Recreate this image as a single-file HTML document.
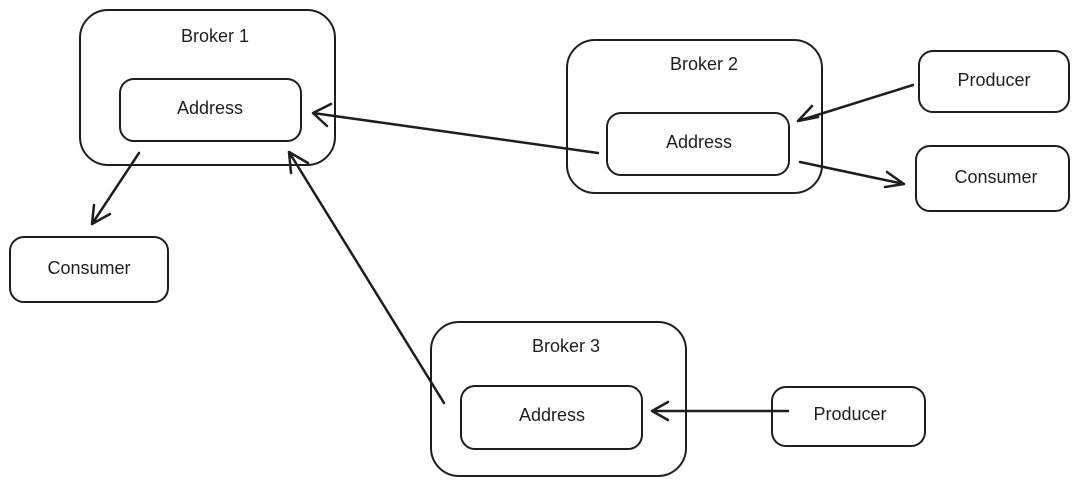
<!DOCTYPE html>
<html><head><meta charset="utf-8"><style>
html,body{margin:0;padding:0;background:#fff;}
svg{display:block}
text{font-family:"Liberation Sans",sans-serif;font-size:18px;fill:#1e1e1e;text-anchor:middle;dominant-baseline:middle}
</style></head><body>
<svg width="1085" height="486" viewBox="0 0 1085 486" xmlns="http://www.w3.org/2000/svg">
<g fill="none" stroke="#1e1e1e" stroke-width="2" stroke-linecap="round" stroke-linejoin="round">
<rect x="80" y="10" width="255" height="155" rx="28"/>
<rect x="120" y="79" width="181" height="62" rx="14"/>
<rect x="567" y="40" width="255" height="153" rx="28"/>
<rect x="607" y="113" width="182" height="62" rx="14"/>
<rect x="919" y="51" width="150" height="61" rx="14"/>
<rect x="916" y="146" width="153" height="65" rx="14"/>
<rect x="10" y="237" width="158" height="65" rx="14"/>
<rect x="431" y="322" width="255" height="154" rx="28"/>
<rect x="461" y="386" width="181" height="63" rx="14"/>
<rect x="772" y="387" width="153" height="59" rx="14"/>
<g stroke-width="2.5">
<path d="M598 153 L313 113 M313 113 L331 104 M313 113 L327 126"/>
<path d="M444 403 L289 152 M289 152 L291 173 M289 152 L308 163"/>
<path d="M139 153 L92 224 M92 224 L94 205 M92 224 L110 214"/>
<path d="M913 85 L798 121 M798 121 L818 117 M798 121 L812 106"/>
<path d="M800 162 L904 184 M904 184 L887 172 M904 184 L885 187"/>
<path d="M788 411 L652 411 M652 411 L668 402 M652 411 L668 420"/>
</g>
</g>
<text x="215" y="37">Broker 1</text>
<text x="210" y="109">Address</text>
<text x="704" y="65">Broker 2</text>
<text x="699" y="143">Address</text>
<text x="994" y="81">Producer</text>
<text x="996" y="178">Consumer</text>
<text x="89" y="269">Consumer</text>
<text x="566" y="347">Broker 3</text>
<text x="552" y="416">Address</text>
<text x="850" y="415">Producer</text>
</svg>
</body></html>
